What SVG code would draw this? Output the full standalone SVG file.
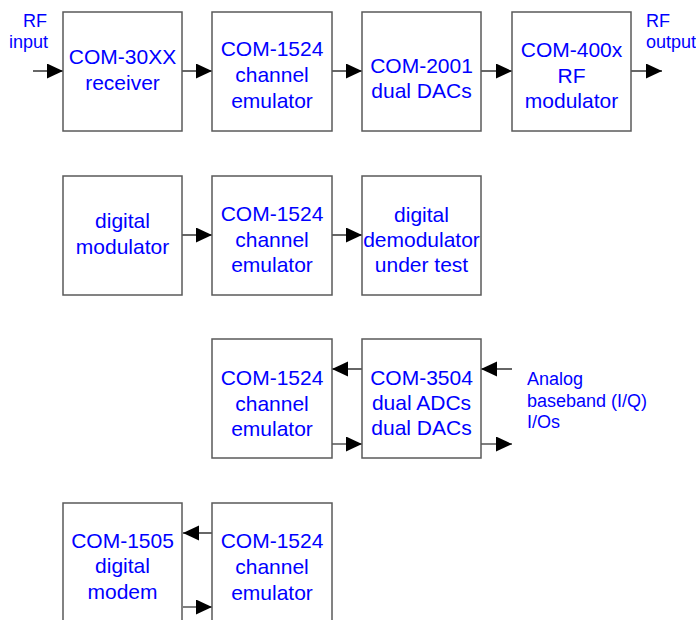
<svg xmlns="http://www.w3.org/2000/svg" width="696" height="620" viewBox="0 0 696 620">
<style>
.box{fill:#ffffff;stroke:#5a5a5a;stroke-width:1.5}
.t{font-family:"Liberation Sans",Arial,sans-serif;font-size:21px;fill:#0000ff;text-anchor:middle}
.s{font-family:"Liberation Sans",Arial,sans-serif;font-size:18px;fill:#0000ff}
.c{stroke:#000000;stroke-width:1.2;fill:none;marker-end:url(#ah)}
.g{stroke:#555555;stroke-width:1.5;fill:none;marker-end:url(#ah)}
</style>
<defs>
<marker id="ah" markerUnits="userSpaceOnUse" markerWidth="16" markerHeight="16" refX="16" refY="7.5" orient="auto">
<path d="M0,0 L16,7.5 L0,15 Z" fill="#000000"/>
</marker>
</defs>
<rect width="696" height="620" fill="#ffffff"/>
<g id="connectors">
<path class="c" d="M33,71 H63"/>
<path class="c" d="M182,71 H212"/>
<path class="c" d="M332,71 H362"/>
<path class="c" d="M481,71 H512"/>
<path class="c" d="M631,71 H662"/>
<path class="c" d="M182,235 H212"/>
<path class="c" d="M332,235 H362"/>
<path class="c" d="M362,369 H332"/>
<path class="g" d="M332,444 H362"/>
<path class="c" d="M512,369 H481"/>
<path class="g" d="M481,444 H512"/>
<path class="c" d="M212,533 H183"/>
<path class="g" d="M183,607 H212"/>
</g>
<g id="rf-input"><text class="s" x="47" y="27" text-anchor="end">RF</text><text class="s" x="48" y="48" text-anchor="end">input</text></g>
<g id="rf-output"><text class="s" x="646" y="27">RF</text><text class="s" x="646" y="48">output</text></g>
<g id="analog-io"><text class="s" x="527" y="385">Analog</text><text class="s" x="527" y="407">baseband (I/Q)</text><text class="s" x="527" y="428">I/Os</text></g>
<g id="n1"><rect class="box" x="63" y="12" width="119" height="119"/><text class="t" x="122.5" y="64">COM-30XX</text><text class="t" x="122.5" y="90">receiver</text></g>
<g id="n2"><rect class="box" x="212" y="12" width="120" height="119"/><text class="t" x="272" y="56">COM-1524</text><text class="t" x="272" y="82">channel</text><text class="t" x="272" y="108">emulator</text></g>
<g id="n3"><rect class="box" x="362" y="12" width="119" height="119"/><text class="t" x="421.5" y="72.5">COM-2001</text><text class="t" x="421.5" y="98">dual DACs</text></g>
<g id="n4"><rect class="box" x="512" y="12" width="119" height="119"/><text class="t" x="571.5" y="57">COM-400x</text><text class="t" x="571.5" y="83">RF</text><text class="t" x="571.5" y="108">modulator</text></g>
<g id="n5"><rect class="box" x="63" y="176" width="119" height="119"/><text class="t" x="122.5" y="228">digital</text><text class="t" x="122.5" y="254">modulator</text></g>
<g id="n6"><rect class="box" x="212" y="176" width="120" height="119"/><text class="t" x="272" y="221">COM-1524</text><text class="t" x="272" y="247">channel</text><text class="t" x="272" y="272">emulator</text></g>
<g id="n7"><rect class="box" x="362" y="176" width="119" height="119"/><text class="t" x="421.5" y="222">digital</text><text class="t" x="421.5" y="247">demodulator</text><text class="t" x="421.5" y="272">under test</text></g>
<g id="n8"><rect class="box" x="212" y="339" width="120" height="119"/><text class="t" x="272" y="385">COM-1524</text><text class="t" x="272" y="411">channel</text><text class="t" x="272" y="436">emulator</text></g>
<g id="n9"><rect class="box" x="362" y="339" width="119" height="119"/><text class="t" x="421.5" y="385">COM-3504</text><text class="t" x="421.5" y="410">dual ADCs</text><text class="t" x="421.5" y="435">dual DACs</text></g>
<g id="n10"><rect class="box" x="63" y="503" width="119" height="130"/><text class="t" x="122.5" y="548">COM-1505</text><text class="t" x="122.5" y="573">digital</text><text class="t" x="122.5" y="599">modem</text></g>
<g id="n11"><rect class="box" x="212" y="503" width="120" height="130"/><text class="t" x="272" y="548">COM-1524</text><text class="t" x="272" y="574">channel</text><text class="t" x="272" y="600">emulator</text></g>
</svg>
